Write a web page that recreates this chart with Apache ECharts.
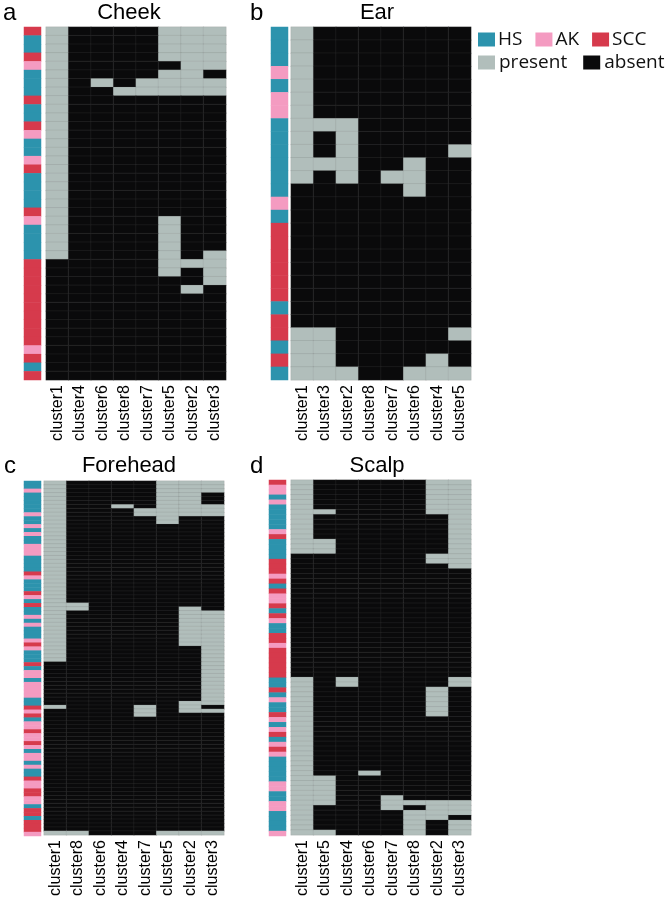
<!DOCTYPE html>
<html>
<head>
<meta charset="utf-8">
<script src="https://cdn.jsdelivr.net/npm/echarts@6/dist/echarts.min.js"></script>
<style>
  html, body { margin: 0; padding: 0; background: #fff; }
  #main { width: 666px; height: 899px; }
</style>
</head>
<body>
<div id="main"></div>
<script>
// sample type per row: H = HS, A = AK, S = SCC
let cheekTypes = 'SHHSAHHHSHHSAHHASHHHHSAHHHHSSSSSSSSSSASHS';
let earTypes = 'HHHAHAAHHHHHHAHSSSSSSHSSHSH';
let foreheadTypes = 'HHAHHHHHAH' + 'HAHAHHAAAH' + 'HHHSAHHHSA' + 'HSHHAHAHHH' + 'ASAHHHSHAA' +
    'HAAAAHHSAS' + 'HAASAASAHA' + 'AHAHHSAASS' + 'AAHSSHSSSA';
let scalpTypes = 'SAAHAHHHHH' + 'ASHHHHSSSA' + 'SHSAASHSAH' + 'HSSASSSSSS' + 'HHSHAHHSAH' +
    'ASHASAHHHH' + 'HAAHHAAHHH' + 'HA';

// column order of each panel
let cheekClusters = ['cluster1', 'cluster4', 'cluster6', 'cluster8', 'cluster7', 'cluster5', 'cluster2', 'cluster3'];
let earClusters = ['cluster1', 'cluster3', 'cluster2', 'cluster8', 'cluster7', 'cluster6', 'cluster4', 'cluster5'];
let foreheadClusters = ['cluster1', 'cluster8', 'cluster6', 'cluster4', 'cluster7', 'cluster5', 'cluster2', 'cluster3'];
let scalpClusters = ['cluster1', 'cluster5', 'cluster4', 'cluster6', 'cluster7', 'cluster8', 'cluster2', 'cluster3'];

// 1 = present, 0 = absent, one string per row
let cheekRows = [
    '10000111', '10000111', '10000111', '10000111', '10000011', '10000110', '10101111', '10011111', '10000000', '10000000',
    '10000000', '10000000', '10000000', '10000000', '10000000', '10000000', '10000000', '10000000', '10000000', '10000000',
    '10000000', '10000000', '10000100', '10000100', '10000100', '10000100', '10000101', '00000111', '00000101', '00000001',
    '00000010', '00000000', '00000000', '00000000', '00000000', '00000000', '00000000', '00000000', '00000000', '00000000',
    '00000000'
];
let earRows = [
    '10000000', '10000000', '10000000', '10000000', '10000000', '10000000', '10000000', '11100000', '10100000', '10100001',
    '11100100', '10101100', '00000100', '00000000', '00000000', '00000000', '00000000', '00000000', '00000000', '00000000',
    '00000000', '00000000', '00000000', '11000001', '11000000', '11000010', '11100111'
];
let foreheadRows = [
    '10000111', '10000111', '10000111', '10000110', '10000110', '10000110', '10010111', '10001111', '10001111', '10000100',
    '10000100', '10000000', '10000000', '10000000', '10000000', '10000000', '10000000', '10000000', '10000000', '10000000',
    '10000000', '10000000', '10000000', '10000000', '10000000', '10000000', '10000000', '10000000', '10000000', '10000000',
    '10000000', '11000000', '11000010', '10000011', '10000011', '10000011', '10000011', '10000011', '10000011', '10000011',
    '10000011', '10000011', '10000001', '10000001', '10000001', '10000001', '00000001', '00000001', '00000001', '00000001',
    '00000001', '00000001', '00000001', '00000001', '00000001', '00000001', '00000011', '10001010', '00001011', '00001000',
    '00000000', '00000000', '00000000', '00000000', '00000000', '00000000', '00000000', '00000000', '00000000', '00000000',
    '00000000', '00000000', '00000000', '00000000', '00000000', '00000000', '00000000', '00000000', '00000000', '00000000',
    '00000000', '00000000', '00000000', '00000000', '00000000', '00000000', '00000000', '00000000', '00000000', '11000111'
];
let scalpRows = [
    '10000011', '10000011', '10000011', '10000011', '10000011', '10000011', '11000011', '10000001', '10000001', '10000001',
    '10000001', '10000001', '11000001', '11000001', '11000001', '00000011', '00000011', '00000001', '00000000', '00000000',
    '00000000', '00000000', '00000000', '00000000', '00000000', '00000000', '00000000', '00000000', '00000000', '00000000',
    '00000000', '00000000', '00000000', '00000000', '00000000', '00000000', '00000000', '00000000', '00000000', '00000000',
    '10100001', '10100001', '10000010', '10000010', '10000010', '10000010', '10000010', '10000010', '10000000', '10000000',
    '10000000', '10000000', '10000000', '10000000', '10000000', '10000000', '10000000', '10000000', '10000000', '10010000',
    '11000000', '11000000', '11000000', '11000000', '11001000', '11001111', '10001011', '10000111', '10000110', '10000101',
    '10000101', '11000101'
];

let typeCode = { H: 0, A: 1, S: 2 };
// legend order is by value, so present gets 0 and absent 1
let stateCode = { '1': 0, '0': 1 };
let colHS = '#2c93ad';
let colAK = '#f49bc1';
let colSCC = '#d63a4c';
let colPresent = '#b1bebb';
let colAbsent = '#0a0a0b';
let labelFont = 'Liberation Sans, Arial, sans-serif';

let panels = [
    { letter: 'a', title: 'Cheek', types: cheekTypes, rows: cheekRows, clusters: cheekClusters,
      stripX: 24, heatX: 46, top: 27, bottom: 380, letterX: 3, titleX: 129, textY: 1 },
    { letter: 'b', title: 'Ear', types: earTypes, rows: earRows, clusters: earClusters,
      stripX: 271, heatX: 291, top: 27, bottom: 380, letterX: 250, titleX: 377, textY: 1 },
    { letter: 'c', title: 'Forehead', types: foreheadTypes, rows: foreheadRows, clusters: foreheadClusters,
      stripX: 24, heatX: 44, top: 481, bottom: 836, letterX: 4, titleX: 129, textY: 454 },
    { letter: 'd', title: 'Scalp', types: scalpTypes, rows: scalpRows, clusters: scalpClusters,
      stripX: 269, heatX: 291, top: 480, bottom: 836, letterX: 250, titleX: 377, textY: 454 }
];

let grid = [], xAxis = [], yAxis = [], stripSeries = [], heatSeries = [], graphic = [];

panels.forEach(function(p, i) {
    let rowNames = p.rows.map(function(r, k) { return 'r' + k; });
    let h = p.bottom - p.top;

    // annotation strip
    grid.push({ left: p.stripX, top: p.top, width: 17, height: h });
    xAxis.push({ type: 'category', gridIndex: 2 * i, data: ['type'], show: false });
    yAxis.push({ type: 'category', gridIndex: 2 * i, data: rowNames, inverse: true, show: false });
    stripSeries.push({
        type: 'heatmap', xAxisIndex: 2 * i, yAxisIndex: 2 * i,
        data: p.types.split('').map(function(t, k) { return [0, k, typeCode[t]]; }),
        progressive: 0, emphasis: { disabled: true }
    });

    // present / absent matrix
    grid.push({ left: p.heatX, top: p.top, width: 180, height: h });
    xAxis.push({
        type: 'category', gridIndex: 2 * i + 1, data: p.clusters,
        axisLine: { show: false }, axisTick: { show: false }, splitLine: { show: false },
        axisLabel: { rotate: 90, margin: 5, fontSize: 16, color: '#000', fontFamily: labelFont, interval: 0 }
    });
    yAxis.push({ type: 'category', gridIndex: 2 * i + 1, data: rowNames, inverse: true, show: false });
    let cells = [];
    p.rows.forEach(function(r, k) {
        r.split('').forEach(function(v, c) { cells.push([c, k, stateCode[v]]); });
    });
    heatSeries.push({
        type: 'heatmap', xAxisIndex: 2 * i + 1, yAxisIndex: 2 * i + 1, data: cells,
        itemStyle: { borderColor: 'rgba(110,110,110,0.3)', borderWidth: 0.5 },
        progressive: 0, emphasis: { disabled: true }
    });

    graphic.push({ type: 'text', x: p.letterX, y: p.textY,
        style: { text: p.letter, fontSize: 24, fontFamily: labelFont, fill: '#000', textVerticalAlign: 'top' } });
    graphic.push({ type: 'text', x: p.titleX, y: p.textY + 1,
        style: { text: p.title, fontSize: 22, fontFamily: labelFont, fill: '#000', textAlign: 'center', textVerticalAlign: 'top' } });
});

let legendText = { fontSize: 19, color: '#111', fontFamily: 'Open Sans, Noto Sans, sans-serif' };

let option = {
    animation: false,
    backgroundColor: '#fff',
    grid: grid,
    xAxis: xAxis,
    yAxis: yAxis,
    graphic: graphic,
    visualMap: [
        {
            type: 'piecewise', seriesIndex: [0, 1, 2, 3], orient: 'horizontal',
            left: 478, top: 30, padding: 0, itemWidth: 17, itemHeight: 14, itemGap: 13, textGap: 3,
            itemSymbol: 'rect', hoverLink: false, selectedMode: false, textStyle: legendText,
            pieces: [
                { value: 0, label: 'HS', color: colHS },
                { value: 1, label: 'AK', color: colAK },
                { value: 2, label: 'SCC', color: colSCC }
            ]
        },
        {
            type: 'piecewise', seriesIndex: [4, 5, 6, 7], orient: 'horizontal',
            left: 478, top: 53, padding: 0, itemWidth: 17, itemHeight: 14, itemGap: 16, textGap: 4,
            itemSymbol: 'rect', hoverLink: false, selectedMode: false, textStyle: legendText,
            pieces: [
                { value: 0, label: 'present', color: colPresent },
                { value: 1, label: 'absent', color: colAbsent }
            ]
        }
    ],
    series: stripSeries.concat(heatSeries)
};

let chart = echarts.init(document.getElementById('main'), null, { renderer: 'canvas' });
chart.setOption(option);
</script>
</body>
</html>
